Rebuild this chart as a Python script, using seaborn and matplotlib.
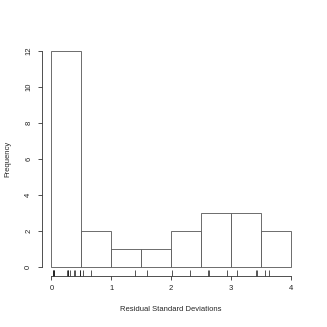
import numpy as np
import matplotlib
matplotlib.use("Agg")
import matplotlib.pyplot as plt
import seaborn as sns

# residual standard deviations
resid_sd = [0.02, 0.03, 0.04, 0.05, 0.26, 0.27, 0.28, 0.31, 0.38, 0.40, 0.47, 0.48,
            0.53, 0.67,
            1.39,
            1.59,
            2.02, 2.32,
            2.62, 2.64, 2.93,
            3.11, 3.42, 3.43,
            3.57, 3.64]
bin_edges = [0, 0.5, 1, 1.5, 2, 2.5, 3, 3.5, 4]
x_ticks = [0, 1, 2, 3, 4]
y_ticks = [0, 2, 4, 6, 8, 10, 12]

sns.set_style("white")
plt.rcParams['font.family'] = ['Liberation Sans', 'DejaVu Sans']

fig = plt.figure(figsize=(3.27, 3.27), dpi=100)
ax = fig.add_axes([0.128, 0.1572, 0.790, 0.713])

sns.histplot(x=resid_sd, bins=bin_edges, stat="count", color="white", alpha=1,
             edgecolor="#555555", linewidth=0.6, ax=ax)
sns.rugplot(x=resid_sd, height=0.026, color="#111111", linewidth=0.5, ax=ax,
            clip_on=False)

ax.set_xlim(-0.16, 4.16)
ax.set_ylim(-0.48, 12.48)
ax.set_xticks(x_ticks)
ax.set_yticks(y_ticks)
ax.set_xticklabels([str(v) for v in x_ticks], fontsize=5.5)
ax.set_yticklabels([str(v) for v in y_ticks], fontsize=5.5, rotation=90, va="center")
ax.tick_params(axis="both", direction="out", length=3, width=0.6, color="#333333",
               pad=4, labelcolor="#222222", bottom=True, left=True)

for side in ["top", "right"]:
    ax.spines[side].set_visible(False)
ax.spines["left"].set_bounds(0, 12)
ax.spines["bottom"].set_bounds(0, 4)
for side in ["left", "bottom"]:
    ax.spines[side].set_linewidth(0.6)
    ax.spines[side].set_color("#333333")

ax.set_xlabel("Residual Standard Deviations", fontsize=5.5, labelpad=10)
ax.set_ylabel("Frequency", fontsize=5.5, labelpad=10)

fig.savefig("out.png", dpi=100)
